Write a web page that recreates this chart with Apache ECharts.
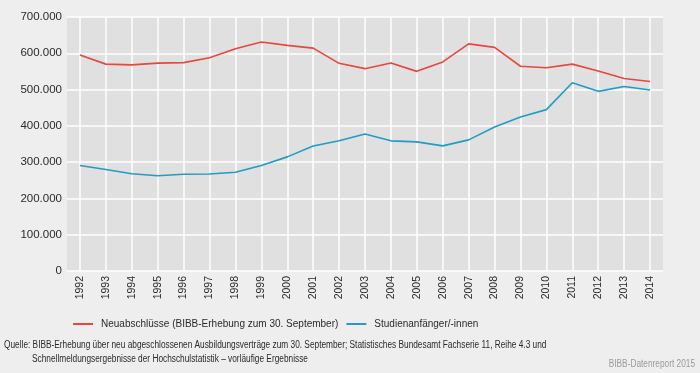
<!DOCTYPE html>
<html><head><meta charset="utf-8">
<script src="https://cdn.jsdelivr.net/npm/echarts@6/dist/echarts.min.js"></script>
<style>html,body{margin:0;padding:0;background:#eeeeee}#c{width:700px;height:373px}</style>
</head><body><div id="c"></div>
<script>
const years = [1992,1993,1994,1995,1996,1997,1998,1999,2000,2001,2002,2003,2004,2005,2006,2007,2008,2009,2010,2011,2012,2013,2014];
const neuabschluesse = [595215,570120,568082,572774,574327,587517,612529,631015,621693,614236,572323,557634,572980,550180,576153,625885,616342,564307,560073,570140,551258,530714,522232];
const studienanfaenger = [290868,279941,267889,262407,266687,267228,271999,290983,314539,344659,358792,377395,358704,355961,344822,361360,396610,424273,444719,518748,495088,508621,498900];
const seriesNames = ['Neuabschlüsse (BIBB-Erhebung zum 30. September)','Studienanfänger/-innen'];
const yTicks = [0,100000,200000,300000,400000,500000,600000,700000];
const sourceLines = ['Quelle: BIBB-Erhebung über neu abgeschlossenen Ausbildungsverträge zum 30. September; Statistisches Bundesamt Fachserie 11, Reihe 4.3 und','Schnellmeldungsergebnisse der Hochschulstatistik – vorläufige Ergebnisse'];
const credit = 'BIBB-Datenreport 2015';

const FONT = "'Liberation Sans',Arial,sans-serif";
const chart = echarts.init(document.getElementById('c'), null, {renderer:'canvas'});
const fmt = v => v === 0 ? '0' : String(v).replace(/\B(?=(\d{3})+(?!\d))/g, '.');
chart.setOption({
  backgroundColor: '#eeeeee',
  animation: false,
  textStyle: {fontFamily: FONT},
  grid: {left: 67, right: 37, top: 17, bottom: 102, show: true, backgroundColor: '#e0e0e0', borderWidth: 0, containLabel: false},
  xAxis: {
    type: 'value', min: 1991.5, max: 2014.5,
    axisLine: {show: false},
    axisTick: {show: false, customValues: years},
    axisLabel: {customValues: years, rotate: 90, color: '#2a2a2a', fontSize: 10.5, fontFamily: FONT, margin: 5, formatter: v => String(v)},
    splitLine: {show: true, lineStyle: {color: '#ffffff', width: 1.5}}
  },
  yAxis: {
    type: 'value', min: yTicks[0], max: yTicks[yTicks.length-1], interval: 100000,
    axisLine: {show: false}, axisTick: {show: false},
    axisLabel: {color: '#2a2a2a', fontSize: 11.5, fontFamily: FONT, margin: 5, formatter: fmt},
    splitLine: {show: true, lineStyle: {color: '#ffffff', width: 1.5}}
  },
  legend: {
    left: 68, top: 314, icon: 'rect', itemWidth: 20, itemHeight: 2, itemGap: 8,
    textStyle: {color: '#2a2a2a', fontSize: 10, fontFamily: FONT, padding: [0,0,0,3]},
    data: seriesNames
  },
  series: [
    {name: seriesNames[0], type: 'line', symbol: 'none', data: years.map((y,i)=>[y, neuabschluesse[i]]), lineStyle: {color: '#e8463f', width: 1.6}, itemStyle: {color: '#e8463f'}},
    {name: seriesNames[1], type: 'line', symbol: 'none', data: years.map((y,i)=>[y, studienanfaenger[i]]), lineStyle: {color: '#1f9dc5', width: 1.6}, itemStyle: {color: '#1f9dc5'}}
  ],
  graphic: [
    {type: 'text', x: 4, y: 345, scaleX: 0.83, style: {text: sourceLines[0], font: '10px ' + FONT, fill: '#2a2a2a', textAlign: 'left', textVerticalAlign: 'middle'}},
    {type: 'text', x: 32, y: 359, scaleX: 0.83, style: {text: sourceLines[1], font: '10px ' + FONT, fill: '#2a2a2a', textAlign: 'left', textVerticalAlign: 'middle'}},
    {type: 'text', x: 695, y: 364, scaleX: 0.83, style: {text: credit, font: '10px ' + FONT, fill: '#9a9a9a', textAlign: 'right', textVerticalAlign: 'middle'}}
  ]
});
</script></body></html>
